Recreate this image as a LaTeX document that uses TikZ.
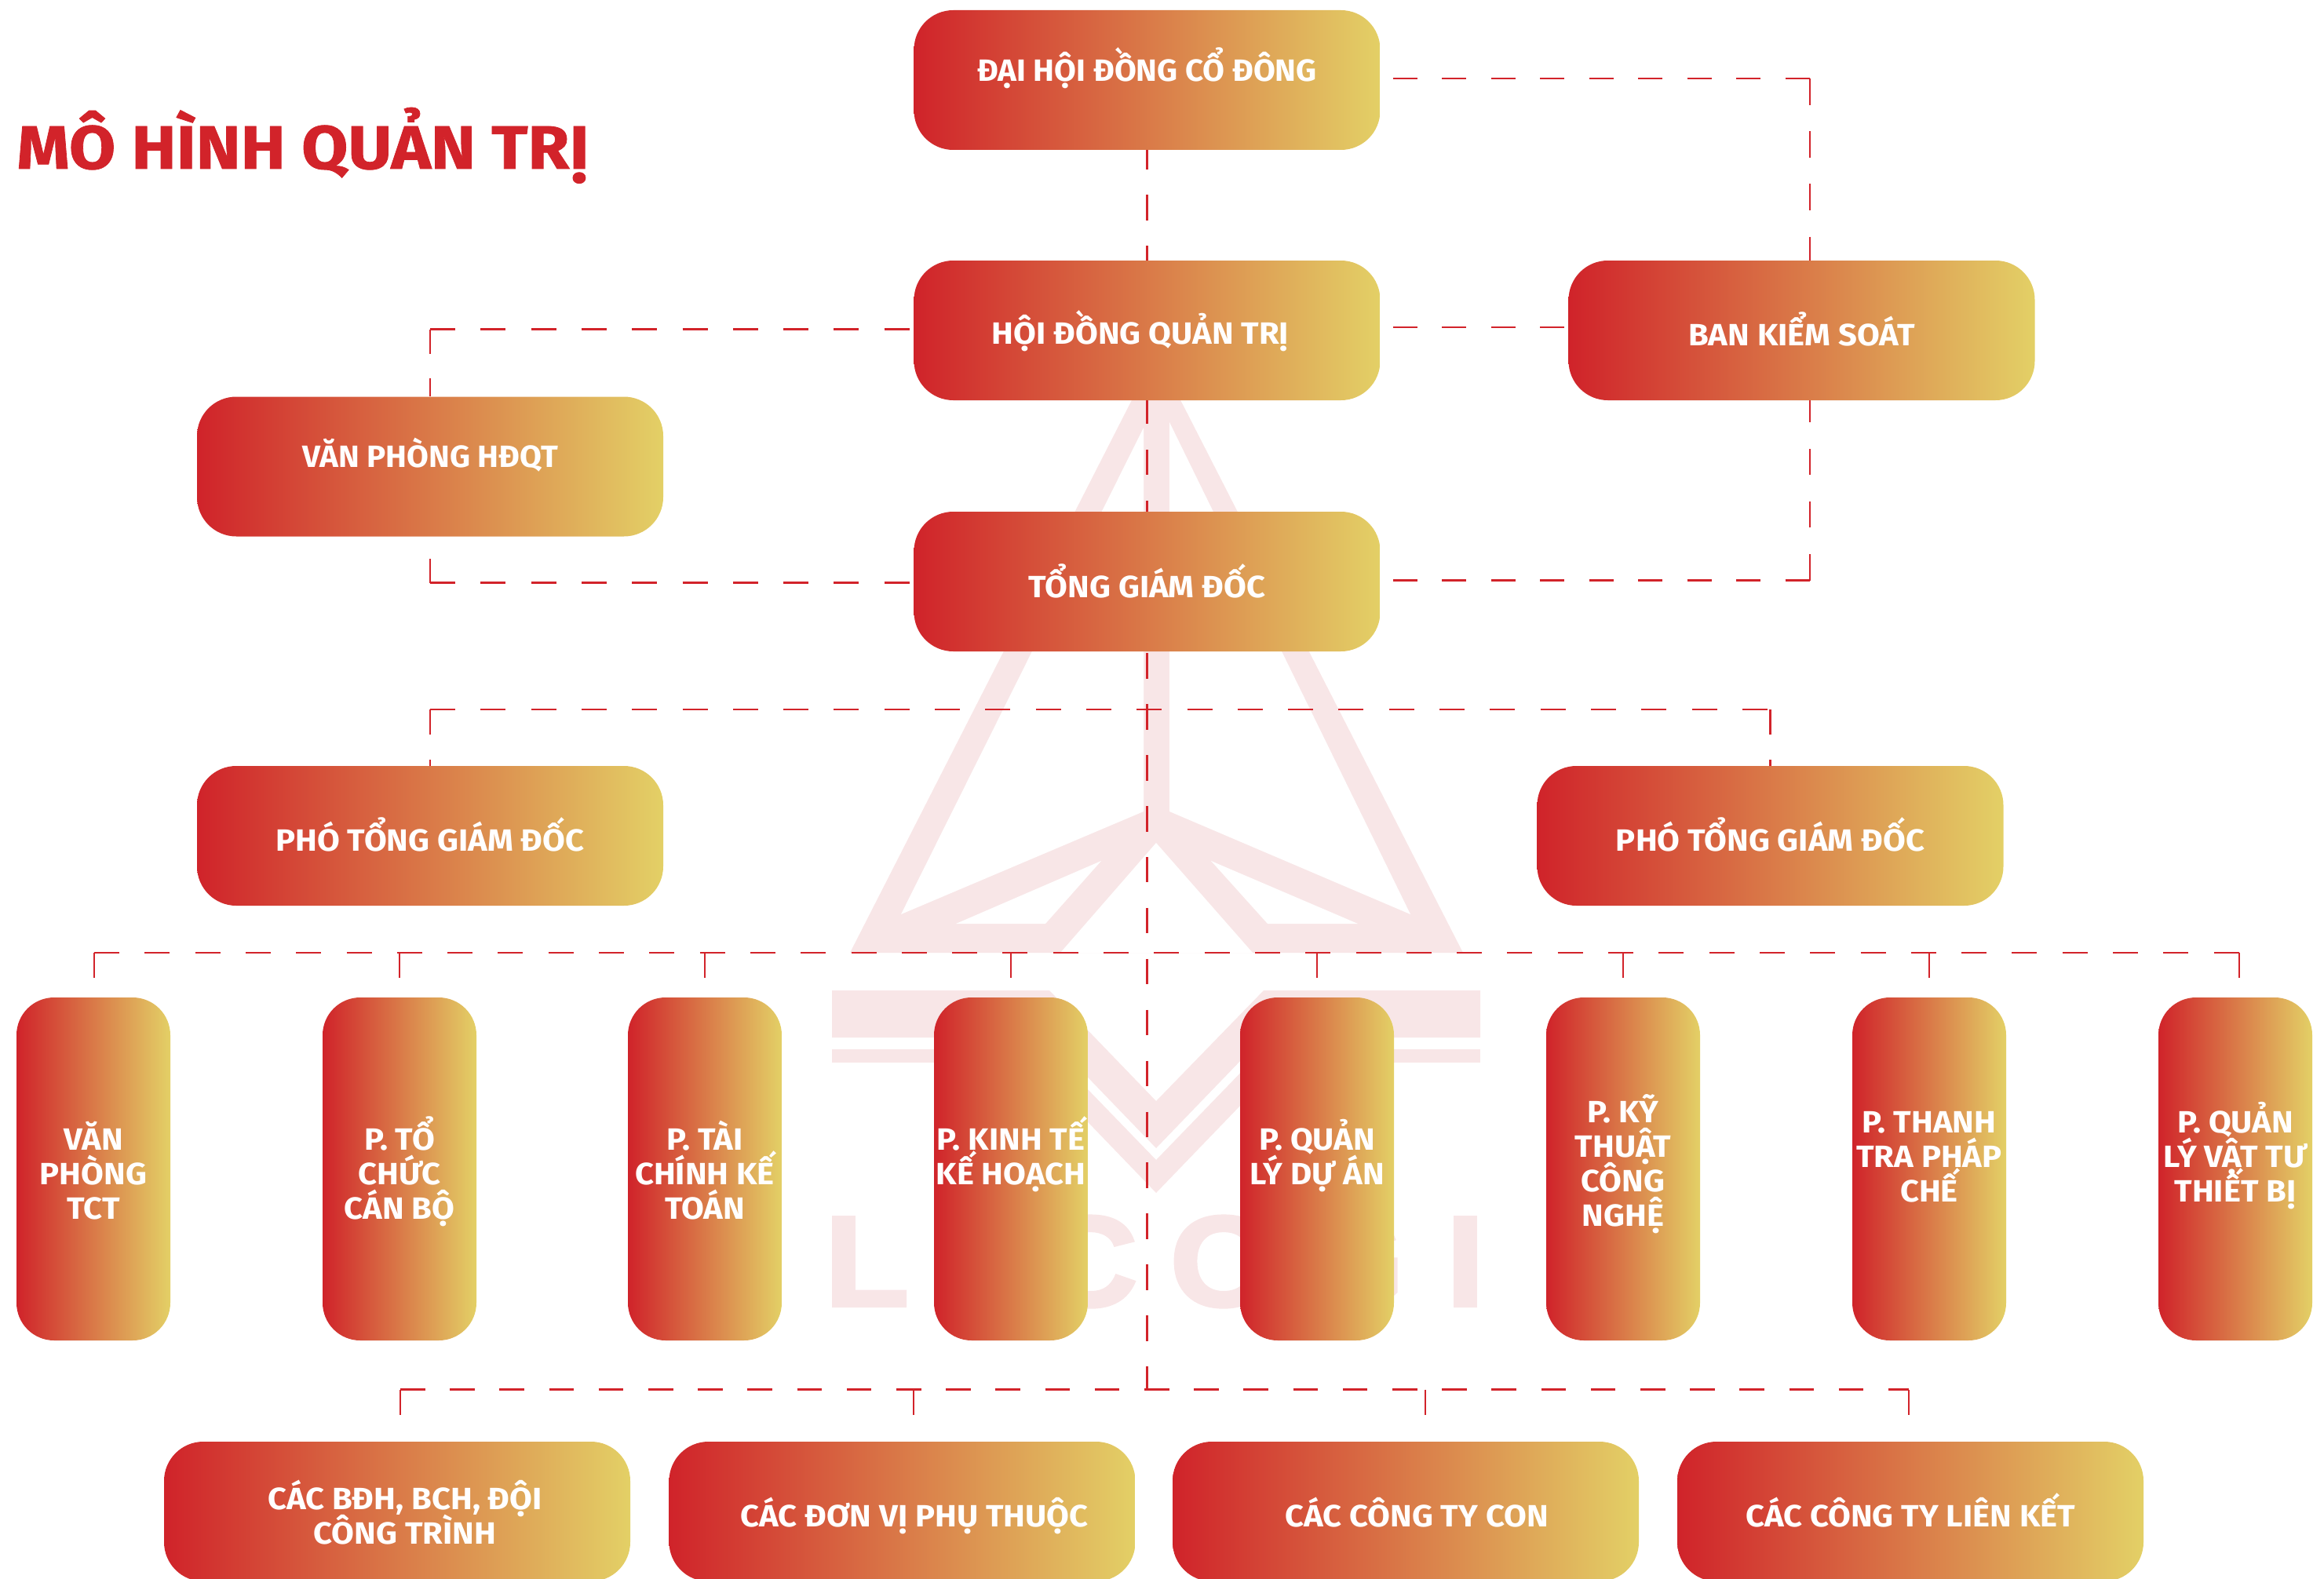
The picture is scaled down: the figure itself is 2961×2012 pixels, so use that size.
\documentclass[tikz,border=0pt]{standalone}
\usepackage{fontspec}
\setmainfont{Fira Sans}
\newfontfamily\boxfont{Fira Sans}[FakeStretch=1.065]
\newfontfamily\tightfont{Fira Sans}[FakeStretch=1.03]
\newfontfamily\titlefont{Fira Sans}[FakeStretch=1.10,FakeBold=1]
\newfontfamily\wmfont{Liberation Sans}[FakeStretch=1.08,FakeBold=2.5]
\usetikzlibrary{backgrounds}
\definecolor{gradleft}{HTML}{D0232A}
\definecolor{gradmid}{HTML}{D97F3D}
\definecolor{gradright}{HTML}{E3D066}
\definecolor{linered}{HTML}{D2232A}
\definecolor{wmpink}{HTML}{F8E6E7}
\setlength{\normallineskiplimit}{-100pt}
\setlength{\lineskiplimit}{-100pt}

\begin{document}
\begin{tikzpicture}[
    x=0.5pt, y=-0.5pt,
    box/.style={rectangle, minimum width=297pt, minimum height=89pt, rounded corners=25pt, inner sep=0pt,
        left color=gradleft, middle color=gradmid, right color=gradright, text=white, align=center,
        text height=0pt, text depth=0pt, font=\boxfont\fontsize{19.6}{22}\selectfont\bfseries},
    tightbox/.style={box, font=\tightfont\fontsize{19.6}{22}\selectfont\bfseries},
    tallbox/.style={box, minimum width=98pt, minimum height=218.5pt, rounded corners=24pt},
    link/.style={draw=linered, line width=1.2pt, dash pattern=on 16pt off 16.15pt},
    linkright/.style={link, dash pattern=on 15.65pt off 15.6pt},
    linkup/.style={link, dash pattern=on 16.8pt off 16.8pt},
    wmfill/.style={fill=wmpink, draw=none},
    wmcut/.style={fill=white, draw=none},
    wmtext/.style={text=wmpink, inner sep=0pt, font=\wmfont\fontsize{82}{82}\selectfont\bfseries}
]
    \useasboundingbox (0,0) rectangle (2961,2012);
    % Title
    \node[anchor=base west, inner sep=0pt, text=linered, font=\titlefont\fontsize{39}{39}\selectfont\bfseries] (title) at (21,215) {MÔ HÌNH QUẢN TRỊ};
    % Board level
    \node[tightbox, text height=2pt] (dhcd) at (1461.5,102) {ĐẠI HỘI ĐỒNG CỔ ĐÔNG};
    \node[box, text height=17pt] (hdqt) at (1461.5,421) {\hspace*{-8.5pt}HỘI ĐỒNG QUẢN TRỊ};
    \node[box, text height=19pt] (bks) at (2295.5,421) {BAN KIỂM SOÁT};
    \node[tightbox, text height=1pt] (vphd) at (548,594.5) {VĂN PHÒNG HĐQT};
    \node[box, text height=20pt] (tgd) at (1461.5,741) {TỔNG GIÁM ĐỐC};
    % Deputies
    \node[box, text height=19pt] (ptgd1) at (548,1065) {PHÓ TỔNG GIÁM ĐỐC};
    \node[box, text height=19pt] (ptgd2) at (2255.5,1065) {PHÓ TỔNG GIÁM ĐỐC};
    % Departments
    \node[tallbox, text height=63.5pt] (p1) at (119,1489.5) {VĂN\\PHÒNG\\TCT};
    \node[tallbox, text height=63.5pt] (p2) at (509,1489.5) {P. TỔ\\CHỨC\\CÁN BỘ};
    \node[tallbox, text height=63.5pt] (p3) at (898,1489.5) {P. TÀI\\CHÍNH KẾ\\TOÁN};
    \node[tallbox, text height=19.5pt] (p4) at (1288,1489.5) {P. KINH TẾ\\KẾ HOẠCH};
    \node[tallbox, text height=19.5pt] (p5) at (1678,1489.5) {P. QUẢN\\LÝ DỰ ÁN};
    \node[tallbox, text height=72.5pt] (p6) at (2068,1489.5) {P. KỸ\\THUẬT\\CÔNG\\NGHỆ};
    \node[tallbox, text height=41.5pt] (p7) at (2458,1489.5) {P. THANH\\TRA PHÁP\\CHẾ};
    \node[tallbox, text height=41.5pt] (p8) at (2848,1489.5) {P. QUẢN\\LÝ VẬT TƯ\\THIẾT BỊ};
    % Units
    \node[box, text height=41pt] (dv1) at (506,1926) {\hspace*{10pt}CÁC BĐH, BCH, ĐỘI\\\hspace*{10pt}CÔNG TRÌNH};
    \node[box, text height=19pt] (dv2) at (1149.5,1926) {\hspace*{15.5pt}CÁC ĐƠN VỊ PHỤ THUỘC};
    \node[box, text height=19pt] (dv3) at (1791,1926) {\hspace*{14pt}CÁC CÔNG TY CON};
    \node[box, text height=19pt] (dv4) at (2434,1926) {CÁC CÔNG TY LIÊN KẾT};
    \begin{pgfonlayer}{background}
        % Watermark
        \fill[wmfill] (1083,1214) -- (1473,449) -- (1864,1214) -- cycle;
        \fill[wmcut] (1457,545) -- (1148,1165) -- (1457,1034) -- cycle;
        \fill[wmcut] (1490,538) -- (1797,1165) -- (1490,1034) -- cycle;
        \fill[wmcut] (1403,1097) -- (1218,1177) -- (1332,1177) -- cycle;
        \fill[wmcut] (1543,1097) -- (1730,1177) -- (1615,1177) -- cycle;
        \fill[wmcut] (1473,1074) -- (1351,1214) -- (1596,1214) -- cycle;
        \fill[wmfill] (1060,1262) -- (1337,1262) -- (1473,1403) -- (1610,1262) -- (1886,1262) -- (1886,1322) -- (1609,1322) -- (1473,1463) -- (1337,1322) -- (1060,1322) -- cycle;
        \fill[wmfill] (1060,1337) rectangle (1340,1354);
        \fill[wmfill] (1610,1337) rectangle (1886,1354);
        \fill[wmfill] (1353,1354) -- (1473,1478) -- (1593,1354) -- (1633,1354) -- (1473,1520) -- (1313,1354) -- cycle;
        \node[wmtext, anchor=base west] (wmL) at (1050,1664) {L};
        \node[wmtext, anchor=base east] (wmC) at (1450,1664) {C};
        \node[wmtext, anchor=base west] (wmO) at (1490,1664) {O};
        \node[wmtext, anchor=base east] (wmG) at (1790,1664) {G};
        \node[wmtext, anchor=base east] (wmI) at (1892,1664) {I};
        % Corners
        \coordinate (topright) at (2306,100);
        \coordinate (hdleft) at (548,419.5);
        \coordinate (tgdleft) at (548,742.5);
        \coordinate (tgdright) at (2306,739.5);
        \coordinate (busA) at (548,904);
        \coordinate (busAend) at (2255.5,904);
        \coordinate (busB) at (120,1214);
        \coordinate (busBend) at (2853,1214);
        \coordinate (busC) at (510,1770.5);
        \coordinate (busCend) at (2432,1770.5);
        % Links
        \draw[link, dash pattern=on 16.2pt off 16.25pt, dash phase=4pt] (dhcd.south) -- (dhcd.south |- busC);
        \draw[linkright] (1774.5,100) -- (topright);
        \draw[linkup] (topright) -- (topright |- bks.north);
        \draw[link] (hdleft) -- (hdleft -| hdqt.west);
        \draw[link, dash pattern=on 15.5pt off 15.5pt] (hdleft) -- (vphd.north);
        \draw[linkright] (1774.5,417) -- (bks.west |- 1774.5,417);
        \draw[link, dash pattern=on 15.5pt off 15.5pt] (tgdleft) -- (vphd.south);
        \draw[link] (tgdleft) -- (tgdleft -| tgd.west);
        \draw[linkup] (tgdright) -- (tgdright |- bks.south);
        \draw[linkright] (1774.5,739.5) -- (tgdright);
        \draw[link] (busA) -- (busAend);
        \draw[link] (busA) -- (ptgd1.north);
        \draw[link] (busAend) -- (ptgd2.north);
        \draw[link] (busB) -- (busBend);
        \draw[link] (busB) -- ++(0,35);
        \draw[link] (p2.north |- busB) -- ++(0,35);
        \draw[link] (p3.north |- busB) -- ++(0,35);
        \draw[link] (p4.north |- busB) -- ++(0,35);
        \draw[link] (p5.north |- busB) -- ++(0,35);
        \draw[link] (p6.north |- busB) -- ++(0,35);
        \draw[link] (p7.north |- busB) -- ++(0,35);
        \draw[link] (busBend) -- ++(0,35);
        \draw[link, dash pattern=on 15.8pt off 15.8pt] (busC) -- (busCend);
        \draw[link] (busC) -- ++(0,36);
        \draw[link] (1164,1770.5) -- ++(0,36);
        \draw[link] (1816,1770.5) -- ++(0,36);
        \draw[link] (busCend) -- ++(0,36);
    \end{pgfonlayer}
\end{tikzpicture}
\end{document}
